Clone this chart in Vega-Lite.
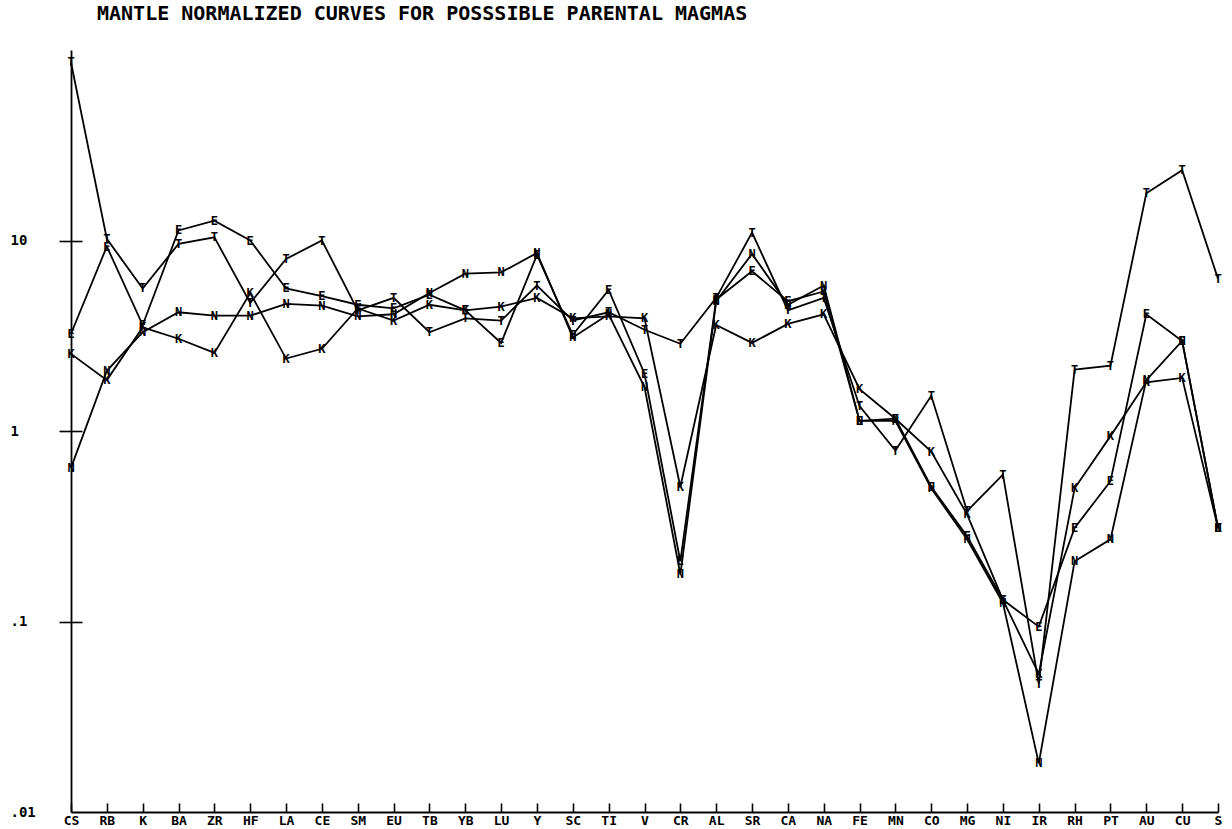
{
"$schema":"https://vega.github.io/schema/vega-lite/v6.json",
"width":1147,"height":762,
"autosize":{"type":"none"},
"padding":{"left":71,"top":50,"right":14,"bottom":17},
"background":"white",
"config":{"view":{"stroke":null},"font":"DejaVu Sans Mono"},
"title":{"text":"MANTLE NORMALIZED CURVES FOR POSSSIBLE PARENTAL MAGMAS","anchor":"start","frame":"group","dx":26,"offset":10,"font":"DejaVu Sans Mono","fontSize":20,"fontWeight":"bold","color":"black","baseline":"alphabetic"},
"data":{"values":[
{"i":0,"el":"CS","s":"T","v":86},{"i":1,"el":"RB","s":"T","v":10.2},{"i":2,"el":"K","s":"T","v":5.6},{"i":3,"el":"BA","s":"T","v":9.6},{"i":4,"el":"ZR","s":"T","v":10.4},{"i":5,"el":"HF","s":"T","v":4.7},{"i":6,"el":"LA","s":"T","v":8.0},{"i":7,"el":"CE","s":"T","v":10.0},{"i":8,"el":"SM","s":"T","v":4.3},{"i":9,"el":"EU","s":"T","v":5.0},{"i":10,"el":"TB","s":"T","v":3.3},{"i":11,"el":"YB","s":"T","v":3.9},{"i":12,"el":"LU","s":"T","v":3.8},{"i":13,"el":"Y","s":"T","v":5.8},{"i":14,"el":"SC","s":"T","v":3.8},{"i":15,"el":"TI","s":"T","v":4.2},{"i":16,"el":"V","s":"T","v":3.4},{"i":17,"el":"CR","s":"T","v":2.87},{"i":18,"el":"AL","s":"T","v":5.0},{"i":19,"el":"SR","s":"T","v":11.0},{"i":20,"el":"CA","s":"T","v":4.3},{"i":21,"el":"NA","s":"T","v":5.0},{"i":22,"el":"FE","s":"T","v":1.35},{"i":23,"el":"MN","s":"T","v":0.79},{"i":24,"el":"CO","s":"T","v":1.53},{"i":25,"el":"MG","s":"T","v":0.38},{"i":26,"el":"NI","s":"T","v":0.59},{"i":27,"el":"IR","s":"T","v":0.047},{"i":28,"el":"RH","s":"T","v":2.1},{"i":29,"el":"PT","s":"T","v":2.2},{"i":30,"el":"AU","s":"T","v":17.7},{"i":31,"el":"CU","s":"T","v":23.4},{"i":32,"el":"S","s":"T","v":6.3},
{"i":0,"el":"CS","s":"E","v":3.24},{"i":1,"el":"RB","s":"E","v":9.3},{"i":2,"el":"K","s":"E","v":3.6},{"i":3,"el":"BA","s":"E","v":11.3},{"i":4,"el":"ZR","s":"E","v":12.7},{"i":5,"el":"HF","s":"E","v":10.0},{"i":6,"el":"LA","s":"E","v":5.6},{"i":7,"el":"CE","s":"E","v":5.1},{"i":8,"el":"SM","s":"E","v":4.6},{"i":9,"el":"EU","s":"E","v":4.4},{"i":10,"el":"TB","s":"E","v":5.2},{"i":11,"el":"YB","s":"E","v":4.3},{"i":12,"el":"LU","s":"E","v":2.9},{"i":13,"el":"Y","s":"E","v":8.4},{"i":14,"el":"SC","s":"E","v":3.2},{"i":15,"el":"TI","s":"E","v":5.5},{"i":16,"el":"V","s":"E","v":2.0},{"i":17,"el":"CR","s":"E","v":0.207},{"i":18,"el":"AL","s":"E","v":4.9},{"i":19,"el":"SR","s":"E","v":6.9},{"i":20,"el":"CA","s":"E","v":4.8},{"i":21,"el":"NA","s":"E","v":5.4},{"i":22,"el":"FE","s":"E","v":1.13},{"i":23,"el":"MN","s":"E","v":1.16},{"i":24,"el":"CO","s":"E","v":0.51},{"i":25,"el":"MG","s":"E","v":0.28},{"i":26,"el":"NI","s":"E","v":0.13},{"i":27,"el":"IR","s":"E","v":0.094},{"i":28,"el":"RH","s":"E","v":0.31},{"i":29,"el":"PT","s":"E","v":0.545},{"i":30,"el":"AU","s":"E","v":4.1},{"i":31,"el":"CU","s":"E","v":2.97},{"i":32,"el":"S","s":"E","v":0.31},
{"i":0,"el":"CS","s":"K","v":2.54},{"i":1,"el":"RB","s":"K","v":1.85},{"i":2,"el":"K","s":"K","v":3.5},{"i":3,"el":"BA","s":"K","v":3.05},{"i":4,"el":"ZR","s":"K","v":2.57},{"i":5,"el":"HF","s":"K","v":5.3},{"i":6,"el":"LA","s":"K","v":2.4},{"i":7,"el":"CE","s":"K","v":2.7},{"i":8,"el":"SM","s":"K","v":4.4},{"i":9,"el":"EU","s":"K","v":3.8},{"i":10,"el":"TB","s":"K","v":4.6},{"i":11,"el":"YB","s":"K","v":4.3},{"i":12,"el":"LU","s":"K","v":4.5},{"i":13,"el":"Y","s":"K","v":5.0},{"i":14,"el":"SC","s":"K","v":3.9},{"i":15,"el":"TI","s":"K","v":4.0},{"i":16,"el":"V","s":"K","v":3.9},{"i":17,"el":"CR","s":"K","v":0.51},{"i":18,"el":"AL","s":"K","v":3.6},{"i":19,"el":"SR","s":"K","v":2.9},{"i":20,"el":"CA","s":"K","v":3.65},{"i":21,"el":"NA","s":"K","v":4.1},{"i":22,"el":"FE","s":"K","v":1.66},{"i":23,"el":"MN","s":"K","v":1.16},{"i":24,"el":"CO","s":"K","v":0.78},{"i":25,"el":"MG","s":"K","v":0.365},{"i":26,"el":"NI","s":"K","v":0.13},{"i":27,"el":"IR","s":"K","v":0.053},{"i":28,"el":"RH","s":"K","v":0.5},{"i":29,"el":"PT","s":"K","v":0.94},{"i":30,"el":"AU","s":"K","v":1.8},{"i":31,"el":"CU","s":"K","v":1.9},{"i":32,"el":"S","s":"K","v":0.31},
{"i":0,"el":"CS","s":"N","v":0.64},{"i":1,"el":"RB","s":"N","v":2.07},{"i":2,"el":"K","s":"N","v":3.3},{"i":3,"el":"BA","s":"N","v":4.2},{"i":4,"el":"ZR","s":"N","v":4.03},{"i":5,"el":"HF","s":"N","v":4.03},{"i":6,"el":"LA","s":"N","v":4.65},{"i":7,"el":"CE","s":"N","v":4.55},{"i":8,"el":"SM","s":"N","v":4.0},{"i":9,"el":"EU","s":"N","v":4.1},{"i":10,"el":"TB","s":"N","v":5.3},{"i":11,"el":"YB","s":"N","v":6.7},{"i":12,"el":"LU","s":"N","v":6.8},{"i":13,"el":"Y","s":"N","v":8.6},{"i":14,"el":"SC","s":"N","v":3.1},{"i":15,"el":"TI","s":"N","v":4.1},{"i":16,"el":"V","s":"N","v":1.7},{"i":17,"el":"CR","s":"N","v":0.177},{"i":18,"el":"AL","s":"N","v":4.8},{"i":19,"el":"SR","s":"N","v":8.5},{"i":20,"el":"CA","s":"N","v":4.6},{"i":21,"el":"NA","s":"N","v":5.8},{"i":22,"el":"FE","s":"N","v":1.13},{"i":23,"el":"MN","s":"N","v":1.13},{"i":24,"el":"CO","s":"N","v":0.5},{"i":25,"el":"MG","s":"N","v":0.27},{"i":26,"el":"NI","s":"N","v":0.125},{"i":27,"el":"IR","s":"N","v":0.018},{"i":28,"el":"RH","s":"N","v":0.207},{"i":29,"el":"PT","s":"N","v":0.27},{"i":30,"el":"AU","s":"N","v":1.85},{"i":31,"el":"CU","s":"N","v":2.97},{"i":32,"el":"S","s":"N","v":0.31}
]},
"layer":[
{"mark":{"type":"line","color":"black","strokeWidth":1.8},
 "encoding":{
  "x":{"field":"el","type":"ordinal","sort":["CS","RB","K","BA","ZR","HF","LA","CE","SM","EU","TB","YB","LU","Y","SC","TI","V","CR","AL","SR","CA","NA","FE","MN","CO","MG","NI","IR","RH","PT","AU","CU","S"],"scale":{"type":"point","padding":0},
   "axis":{"orient":"bottom","title":null,"domain":true,"domainColor":"black","domainWidth":1.8,"ticks":false,"tickSize":0,"labelAngle":0,"labelFont":"DejaVu Sans Mono","labelFontSize":13,"labelFontWeight":"bold","labelColor":"black","labelPadding":2,"labelBaseline":"top","labelExpr":"datum.label == 'Y' ? 'Y\u00a0' : length(datum.label) == 1 ? datum.label + '\u00a0\u00a0' : datum.label","grid":false}},
  "y":{"field":"v","type":"quantitative","scale":{"type":"log","domain":[0.01,100]},
   "axis":{"orient":"left","title":null,"values":[0.01,0.1,1,10],"domain":true,"domainColor":"black","domainWidth":1.8,"ticks":false,"tickSize":0,"labelAlign":"left","labelBaseline":"middle","labelPadding":61,"labelFlush":false,"labelOverlap":false,"labelFont":"DejaVu Sans Mono","labelFontSize":14,"labelFontWeight":"bold","labelColor":"black","labelExpr":"datum.value < 0.05 ? '.01' : datum.value < 0.5 ? '.1' : datum.value < 5 ? '1' : '10'","grid":false}},
  "detail":{"field":"s"},
  "order":{"field":"i","type":"quantitative"}
 }},
{"mark":{"type":"text","font":"DejaVu Sans Mono","fontSize":12,"fontWeight":"bold","fill":"black","baseline":"middle","align":"center"},
 "encoding":{
  "x":{"field":"el","type":"ordinal","sort":["CS","RB","K","BA","ZR","HF","LA","CE","SM","EU","TB","YB","LU","Y","SC","TI","V","CR","AL","SR","CA","NA","FE","MN","CO","MG","NI","IR","RH","PT","AU","CU","S"],"scale":{"type":"point","padding":0},
   "axis":{"orient":"bottom","title":null,"domain":false,"ticks":true,"tickSize":9,"tickColor":"black","tickWidth":1.6,"offset":-9,"labels":false,"grid":false}},
  "y":{"field":"v","type":"quantitative","scale":{"type":"log","domain":[0.01,100]},
   "axis":{"orient":"left","title":null,"values":[0.1,1,10],"domain":false,"ticks":true,"tickSize":23,"tickColor":"black","tickWidth":1.6,"offset":-11,"labels":false,"grid":false}},
  "text":{"field":"s"}
 }}
],
"resolve":{"axis":{"x":"independent","y":"independent"}}
}
